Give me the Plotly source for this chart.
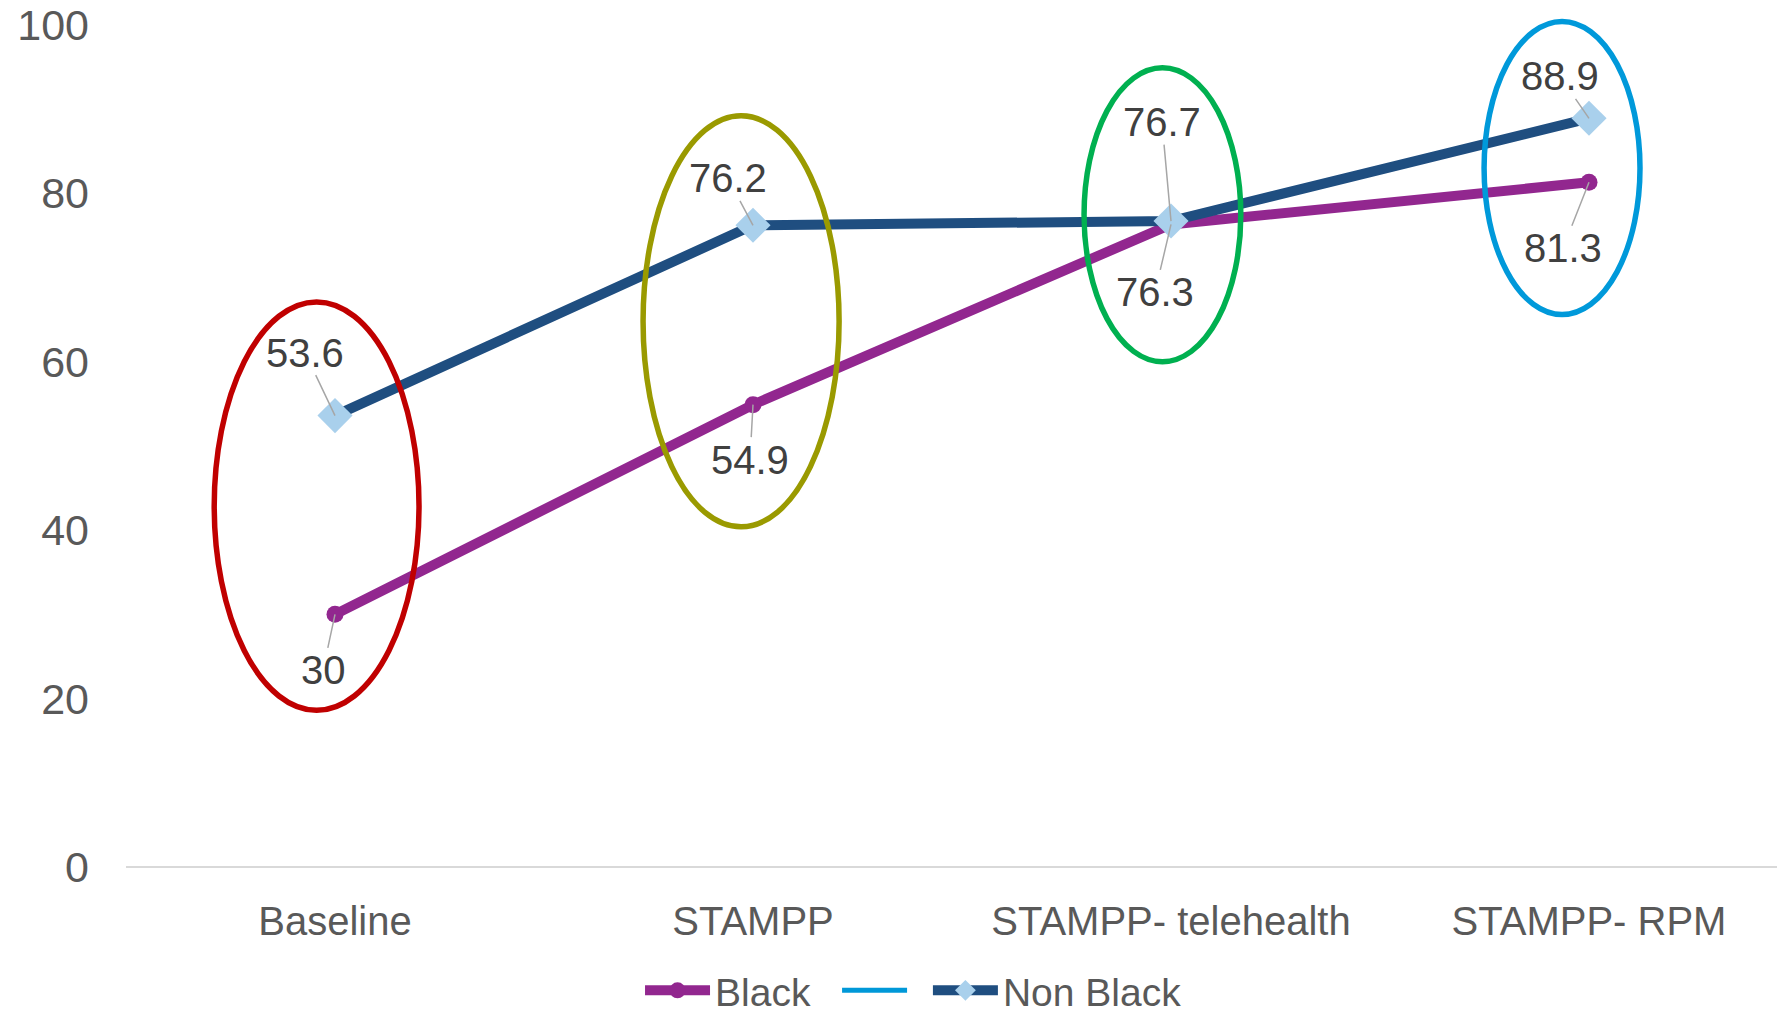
import plotly.graph_objects as go

# ---------------- data ----------------
categories = ["Baseline", "STAMPP", "STAMPP- telehealth", "STAMPP- RPM"]
black = [30, 54.9, 76.3, 81.3]
non_black = [53.6, 76.2, 76.7, 88.9]
y_ticks = [0, 20, 40, 60, 80, 100]

# ---------------- styles ----------------
FONT = "Liberation Sans"
PURPLE = "#92278F"
NAVY = "#1F4E80"
LIGHT = "#A9D0EC"
MID_BLUE = "#0098D8"
NBSP = "\u00a0"

# label offsets in px (ax, ay) relative to the point
black_offsets = [(-12, 56), (-3, 55), (-16, 68), (-26, 66)]
nonblack_offsets = [(-30, -63), (-25, -47), (-9, -99), (-29, -42)]

# highlight ellipses around each category (x0, x1 in category units, y0, y1 in value units)
ellipses = [
    dict(x0=-0.289, x1=0.201, y0=18.6, y1=67.1, color="#C00000"),
    dict(x0=0.737, x1=1.206, y0=40.4, y1=89.2, color="#9A9A00"),
    dict(x0=1.792, x1=2.167, y0=60.0, y1=94.9, color="#00B050"),
    dict(x0=2.749, x1=3.122, y0=65.6, y1=100.4, color="#0099DA"),
]

xs = list(range(len(categories)))

fig = go.Figure()
fig.add_trace(go.Scatter(
    x=xs, y=black, name="Black" + NBSP * 2, mode="lines+markers",
    line=dict(color=PURPLE, width=10),
    marker=dict(symbol="circle", size=17, color=PURPLE),
))
fig.add_trace(go.Scatter(
    x=xs, y=[None] * len(xs), name=NBSP, mode="lines",
    line=dict(color=MID_BLUE, width=5),
))
fig.add_trace(go.Scatter(
    x=xs, y=non_black, name="Non Black", mode="lines+markers",
    line=dict(color=NAVY, width=10),
    marker=dict(symbol="diamond", size=27, color=LIGHT),
))

annotations = []
for series, offsets in ((black, black_offsets), (non_black, nonblack_offsets)):
    for i, (v, (ax, ay)) in enumerate(zip(series, offsets)):
        annotations.append(dict(x=i, y=v, xref="x", yref="y", text=f"{v:g}",
                                showarrow=True, arrowhead=0, arrowwidth=1.5,
                                arrowcolor="#A6A6A6", ax=ax, ay=ay, standoff=0,
                                borderpad=0,
                                font=dict(family=FONT, size=40, color="#404040")))

shapes = [dict(type="circle", xref="x", yref="y",
               x0=e["x0"], x1=e["x1"], y0=e["y0"], y1=e["y1"],
               line=dict(color=e["color"], width=5.5), layer="above")
          for e in ellipses]

# page body has an 8px margin, so the figure is sized to fill the rest of the window
W, H = 1777, 1003
left, bottom_px, top_px = 118, 859.5, 0.2
px_per_cat = 418
x_max = -0.5 + (W - left) / px_per_cat

fig.update_layout(
    width=W, height=H,
    margin=dict(l=left, r=0, t=top_px, b=H - bottom_px, autoexpand=False),
    paper_bgcolor="white", plot_bgcolor="white",
    font=dict(family=FONT, color="#595959"),
    xaxis=dict(
        range=[-0.5, x_max], tickmode="array", tickvals=xs, ticktext=categories,
        showgrid=False, zeroline=False, showline=False, ticks="",
        tickfont=dict(family=FONT, size=40, color="#595959"),
        ticklabelstandoff=27, fixedrange=True,
    ),
    yaxis=dict(
        range=[0, 102], tickmode="array", tickvals=y_ticks,
        showgrid=False, zeroline=True, zerolinecolor="#D9D9D9", zerolinewidth=2,
        showline=False, ticks="",
        tickfont=dict(family=FONT, size=43, color="#595959"),
        ticklabelstandoff=36, ticklabeloverflow="allow", fixedrange=True,
    ),
    showlegend=True,
    legend=dict(orientation="h", x=0.4747, xanchor="center", y=-0.1437, yanchor="middle",
                font=dict(family=FONT, size=39, color="#595959"),
                itemwidth=65, bgcolor="rgba(0,0,0,0)", traceorder="normal"),
    annotations=annotations,
    shapes=shapes,
)

fig.write_html("out.html")
